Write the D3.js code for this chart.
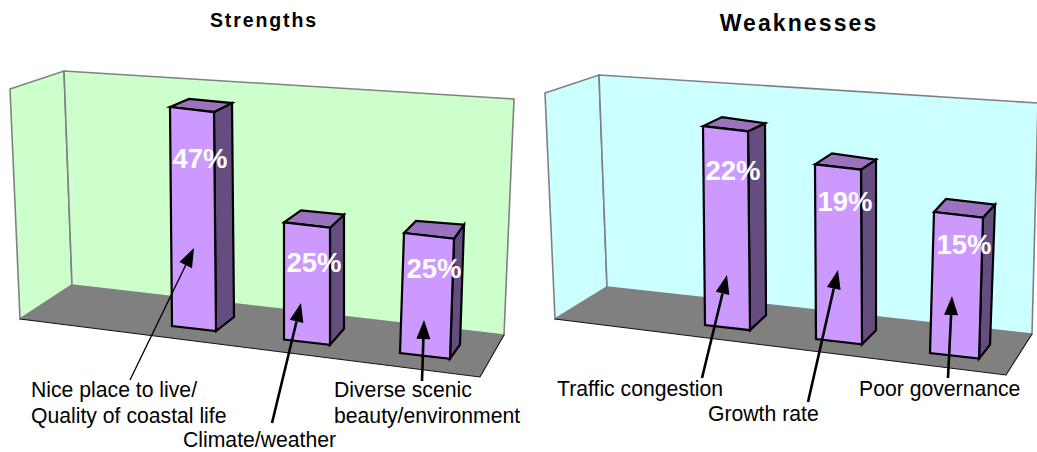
<!DOCTYPE html>
<html><head><meta charset="utf-8">
<script src="https://d3js.org/d3.v7.min.js"></script>
<style>html,body{margin:0;padding:0;background:#fff}svg{display:block}text{font-family:"Liberation Sans",Arial,sans-serif}</style>
</head><body><svg id="c" width="1037" height="452"></svg>
<script>
const strengthCategories=["Nice place to live/\nQuality of coastal life","Climate/weather","Diverse scenic\nbeauty/environment"];
const strengthValues=[47,25,25];
const weaknessCategories=["Traffic congestion","Growth rate","Poor governance"];
const weaknessValues=[22,19,15];

const panels=[
{title:"Strengths",titleX:264,titleY:27,titleSize:19.5,titleLs:1.9,cats:strengthCategories,vals:strengthValues,wall:"#CCFFCC",
 walls:{o:[10,89],bt:[64,71],tr:[514,99],br:[504,335],bb:[72,285],ob:[20,319],fr:[480,377]},
 xs:[172,284,400],base:[326,339.5,353],w:[44,46,50],lean:[-2,0,4],
 y:d3.scaleLinear([0,50],[0,233]),persp:[1,1.005,1.03],
 dTL:[[19,-8],[17,-12],[12,-12]],dTR:[[18,-9],[14,-13],[10,-14]],dBR:[[18,-14],[14,-16],[10,-14]],
 lab:[61,50,45],
 arrows:[[130,380,194,248,1.3],[272,423,301,303,2.6],[422,381,424,320,2.6]],
 notes:[[31,397,26],[183,447,0],[334,397,26]]},
{title:"Weaknesses",titleX:799,titleY:31,titleSize:23,titleLs:2.1,cats:weaknessCategories,vals:weaknessValues,wall:"#CCFFFF",
 walls:{o:[545,93],bt:[599,75],tr:[1038,103],br:[1032,334],bb:[607,287],ob:[555,319],fr:[1006,375]},
 xs:[705,816,930],base:[325,339,353],w:[45,46,49],lean:[-2,-1,4],
 y:d3.scaleLinear([0,25],[0,226]),persp:[1,1.017,1.04],
 dTL:[[19,-9],[17,-11],[12,-13]],dTR:[[17,-8],[15,-10],[12,-13]],dBR:[[16,-15],[14,-14],[11,-14]],
 lab:[54,47,42],
 arrows:[[702,378,727,275,2.6],[808,402,838,270,2.6],[948,378,952,296,2.6]],
 notes:[[557,396,26],[708,421,0],[859,396,26]]}
];
const svg=d3.select("#c");
const line=d3.line();
const poly=(g,pts,fill,stroke,sw)=>g.append("path").attr("d",line(pts)+"Z").attr("fill",fill).attr("stroke",stroke||"none").attr("stroke-width",sw||0);

panels.forEach(p=>{
 const g=svg.append("g"), W=p.walls;
 svg.append("text").attr("x",p.titleX).attr("y",p.titleY).attr("text-anchor","middle").attr("font-weight","bold")
   .attr("font-size",p.titleSize).attr("letter-spacing",p.titleLs).attr("fill","#000").text(p.title);
 poly(g,[W.o,W.bt,W.bb,W.ob],p.wall,"#808080",1.6);
 poly(g,[W.bt,W.tr,W.br,W.bb],p.wall,"#808080",1.6);
 poly(g,[W.ob,W.bb,W.br,W.fr],"#808080");
 g.append("path").attr("d",line([W.ob,W.fr,W.br])).attr("stroke","#111").attr("stroke-width",1.1).attr("fill","none");

 const idx=d3.scalePoint(p.cats,[0,2]);
 const s=a=>d3.scaleLinear([0,1,2],a);
 const X=s(p.xs),B=s(p.base),Wd=s(p.w),L=s(p.lean),P=s(p.persp),Lab=s(p.lab);
 const dv=a=>[s(a.map(d=>d[0])),s(a.map(d=>d[1]))];
 const tl=dv(p.dTL),tr=dv(p.dTR),brd=dv(p.dBR);
 const slope=0.115;
 p.cats.forEach((c,k)=>{
  const i=idx(c),v=p.vals[k],h=p.y(v)*P(i);
  const bl=[X(i),B(i)], br=[X(i)+Wd(i),B(i)+Wd(i)*slope];
  const ftl=[bl[0]+L(i),bl[1]-h], ftr=[br[0]+L(i),br[1]-h];
  const btl=[ftl[0]+tl[0](i),ftl[1]+tl[1](i)], btr=[ftr[0]+tr[0](i),ftr[1]+tr[1](i)];
  const bbr=[br[0]+brd[0](i),br[1]+brd[1](i)];
  const b=g.append("g").attr("stroke-linejoin","miter");
  poly(b,[ftr,btr,bbr,br],"#664D80","#000",2.2);
  poly(b,[ftl,btl,btr,ftr],"#9A72BD","#000",2.2);
  poly(b,[ftl,ftr,br,bl],"#CC99FF","#000",2.2);
  b.append("text").attr("x",ftl[0]+30).attr("y",ftl[1]+Lab(i)).attr("text-anchor","middle")
   .attr("font-weight","bold").attr("font-size",27.5).attr("fill","#fff").text(d3.format(".0f")(v)+"%");
 });
 p.arrows.forEach(a=>{
  const [x1,y1,x2,y2,sw]=a,ang=Math.atan2(y2-y1,x2-x1),len=19,hw=7;
  const ux=Math.cos(ang),uy=Math.sin(ang),bx=x2-ux*len,by=y2-uy*len;
  g.append("line").attr("x1",x1).attr("y1",y1).attr("x2",bx).attr("y2",by).attr("stroke","#000").attr("stroke-width",sw);
  poly(g,[[x2,y2],[bx-uy*hw,by+ux*hw],[bx+uy*hw,by-ux*hw]],"#000");
 });
 p.cats.forEach((c,k)=>{
  const n=p.notes[k];
  c.split("\n").forEach((t,j)=>{
   g.append("text").attr("x",n[0]).attr("y",n[1]+j*n[2]).attr("font-size",21.2).attr("fill","#000").text(t);
  });
 });
});
</script></body></html>
